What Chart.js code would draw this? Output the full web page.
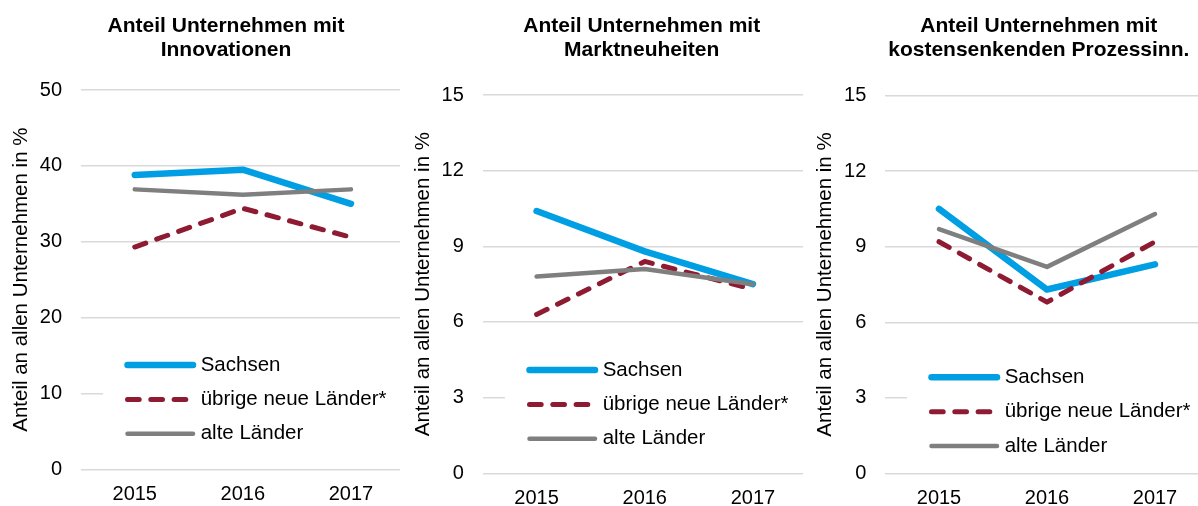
<!DOCTYPE html>
<html lang="de">
<head>
<meta charset="utf-8">
<title>Anteil Unternehmen</title>
<script src="https://cdn.jsdelivr.net/npm/chart.js@4.4.1/dist/chart.umd.min.js"></script>
<style>
    html, body { margin: 0; padding: 0; background: #fff; }
    #wrap { position: relative; width: 1198px; height: 506px; overflow: hidden; background: #fff; }
    .panel { position: absolute; top: 0; height: 506px; overflow: hidden; }
    .panel canvas { display: block; }
</style>
</head>
<body>
<div id="wrap">
    <div class="panel" style="left:0;width:400px"><canvas id="chart-innov" width="405" height="506"></canvas></div>
    <div class="panel" style="left:402px;width:401px"><canvas id="chart-markt" width="405" height="506"></canvas></div>
    <div class="panel" style="left:804px;width:394px"><canvas id="chart-kosten" width="405" height="506"></canvas></div>
</div>
<script>
// --- DATEN ---
const years = ['2015', '2016', '2017'];
const seriesNames = ['Sachsen', 'übrige neue Länder*', 'alte Länder'];

const sachsenInnov = [38.8, 39.5, 35.0];
const uebrigeInnov = [29.3, 34.4, 30.6];
const alteInnov = [36.9, 36.2, 36.9];

const sachsenMarkt = [10.4, 8.8, 7.5];
const uebrigeMarkt = [6.3, 8.4, 7.3];
const alteMarkt = [7.8, 8.1, 7.5];

const sachsenKosten = [10.5, 7.3, 8.3];
const uebrigeKosten = [9.2, 6.8, 9.2];
const alteKosten = [9.7, 8.2, 10.3];

const titleInnov = ['Anteil Unternehmen mit', 'Innovationen'];
const titleMarkt = ['Anteil Unternehmen mit', 'Marktneuheiten'];
const titleKosten = ['Anteil Unternehmen mit', 'kostensenkenden Prozessinn.'];
const yTitle = 'Anteil an allen Unternehmen in %';

const FONT = '"Liberation Sans", Arial, Helvetica, sans-serif';

// Titel und Legende direkt auf die Zeichenfläche malen
const panelDecor = {
    id: 'panelDecor',
    afterDraw(chart, args, opts) {
        const ctx = chart.ctx;
        ctx.save();
        ctx.fillStyle = '#000';
        ctx.textAlign = 'center';
        ctx.textBaseline = 'middle';
        ctx.font = 'bold 21px ' + FONT;
        opts.title.forEach((line, i) => ctx.fillText(line, opts.titleX, 26 + i * 24));

        // Legende mit weissem Hintergrund (verdeckt die Gitterlinie)
        const rowGap = 34.4;
        ctx.fillStyle = '#fff';
        ctx.fillRect(103, opts.legendY - 17, chart.width, rowGap * 2 + 34);
        chart.data.datasets.forEach((ds, i) => {
            const y = opts.legendY + i * rowGap;
            ctx.beginPath();
            ctx.lineWidth = ds.borderWidth;
            ctx.strokeStyle = ds.borderColor;
            ctx.lineCap = 'round';
            ctx.setLineDash(ds.borderDash || []);
            ctx.moveTo(127.5, y);
            ctx.lineTo(193, y);
            ctx.stroke();
            ctx.setLineDash([]);
            ctx.fillStyle = '#000';
            ctx.textAlign = 'left';
            ctx.font = '20.5px ' + FONT;
            ctx.fillText(ds.label, 200.7, y);
        });
        ctx.restore();
    }
};

function buildChart(id, values, cfg) {
    const ctx = document.getElementById(id).getContext('2d');
    const styles = [
        { color: '#009FE3', width: 6.5, dash: [], order: 3 },
        { color: '#8E1B32', width: 5, dash: [11.7, 11.6], order: 2 },
        { color: '#7F7F7F', width: 4.5, dash: [], order: 1 }
    ];
    return new Chart(ctx, {
        type: 'line',
        data: {
            labels: years,
            datasets: values.map((v, i) => ({
                label: seriesNames[i],
                data: v,
                borderColor: styles[i].color,
                borderWidth: styles[i].width,
                borderDash: styles[i].dash,
                borderCapStyle: 'round',
                borderJoinStyle: 'round',
                pointRadius: 0,
                tension: 0,
                fill: false,
                order: styles[i].order
            }))
        },
        options: {
            responsive: false,
            animation: false,
            layout: { padding: { top: cfg.top, left: 0, right: 0, bottom: 0 } },
            plugins: {
                legend: { display: false },
                title: { display: false },
                tooltip: { enabled: false },
                panelDecor: { title: cfg.title, titleX: cfg.titleX, legendY: cfg.legendY }
            },
            scales: {
                x: {
                    offset: true,
                    grid: { display: false },
                    border: { display: false },
                    ticks: { color: '#000', padding: cfg.xPad, font: { family: FONT, size: 20 } },
                    afterFit: (scale) => { scale.height = 506 - cfg.bottom; }
                },
                y: {
                    min: 0,
                    max: cfg.max,
                    grid: { color: '#d9d9d9', lineWidth: 1.5, drawTicks: false },
                    border: { display: false },
                    ticks: { stepSize: cfg.step, color: '#000', padding: 18.7, font: { family: FONT, size: 20 } },
                    title: {
                        display: true,
                        text: yTitle,
                        color: '#000',
                        font: { family: FONT, size: 20.5, lineHeight: 1.2 },
                        padding: { top: 8.7, bottom: 0 }
                    },
                    afterFit: (scale) => { scale.width = cfg.left; }
                }
            }
        },
        plugins: [panelDecor]
    });
}

buildChart('chart-innov', [sachsenInnov, uebrigeInnov, alteInnov], {
    title: titleInnov, titleX: 226, legendY: 365, top: 90, bottom: 469.3, left: 80.7, max: 50, step: 10, xPad: 5
});
buildChart('chart-markt', [sachsenMarkt, uebrigeMarkt, alteMarkt], {
    title: titleMarkt, titleX: 239.7, legendY: 370, top: 95, bottom: 473.3, left: 80.5, max: 15, step: 3, xPad: 5
});
buildChart('chart-kosten', [sachsenKosten, uebrigeKosten, alteKosten], {
    title: titleKosten, titleX: 234.8, legendY: 377.3, top: 95.7, bottom: 473.3, left: 81, max: 15, step: 3, xPad: 5
});
</script>
</body>
</html>
